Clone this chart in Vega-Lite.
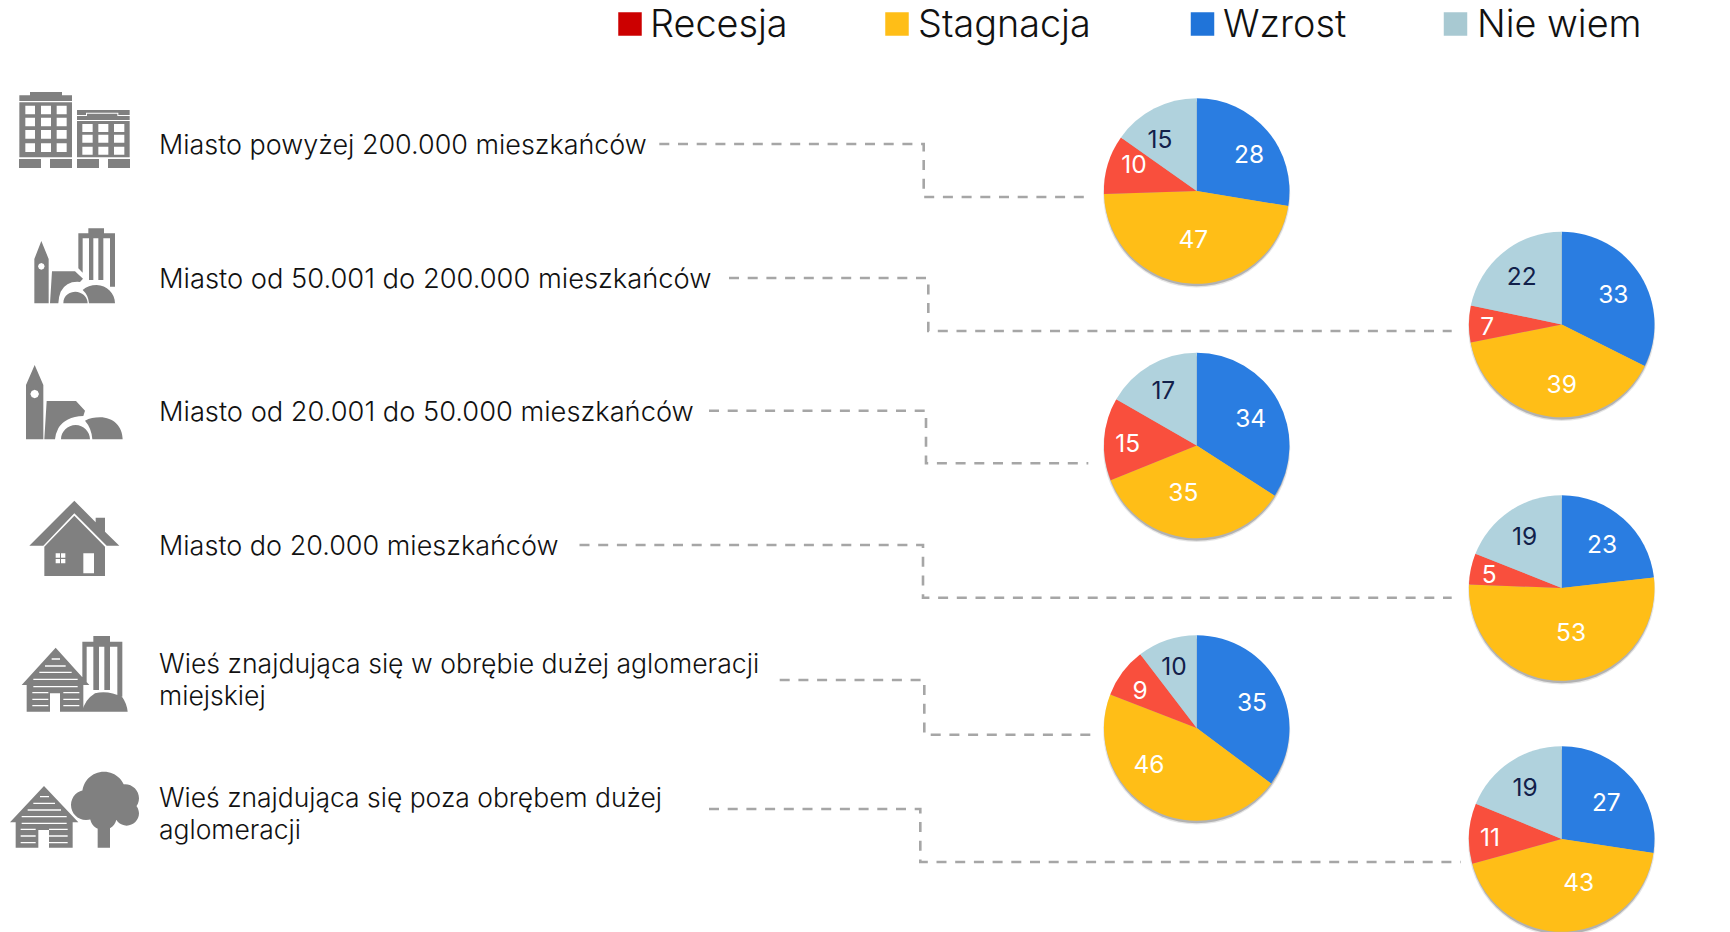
{
"$schema":"https://vega.github.io/schema/vega-lite/v6.json",
"width":1730,"height":932,"padding":0,"autosize":{"type":"none"},"background":"#ffffff",
"config":{"view":{"stroke":null},"axis":{"disable":true}},
"datasets":{
"wiersze":[
{"wiersz":1,"nazwa":"Miasto powyżej 200.000 mieszkańców","ikona":"bloki"},
{"wiersz":2,"nazwa":"Miasto od 50.001 do 200.000 mieszkańców","ikona":"duze"},
{"wiersz":3,"nazwa":"Miasto od 20.001 do 50.000 mieszkańców","ikona":"srednie"},
{"wiersz":4,"nazwa":"Miasto do 20.000 mieszkańców","ikona":"dom"},
{"wiersz":5,"nazwa":["Wieś znajdująca się w obrębie dużej aglomeracji","miejskiej"],"ikona":"wies_miasto"},
{"wiersz":6,"nazwa":["Wieś znajdująca się poza obrębem dużej","aglomeracji"],"ikona":"wies_drzewo"}
],
"legenda":[
{"k":1,"kategoria":"Recesja"},{"k":2,"kategoria":"Stagnacja"},{"k":3,"kategoria":"Wzrost"},{"k":4,"kategoria":"Nie wiem"}
],
"udzialy":[
{"nr":0,"wiersz":1,"kategoria":"Wzrost","kolejnosc":0,"wartosc":28,"udzial":27.6},{"nr":1,"wiersz":1,"kategoria":"Stagnacja","kolejnosc":1,"wartosc":47,"udzial":46.9},{"nr":2,"wiersz":1,"kategoria":"Recesja","kolejnosc":2,"wartosc":10,"udzial":10.3},{"nr":3,"wiersz":1,"kategoria":"Nie wiem","kolejnosc":3,"wartosc":15,"udzial":15.2},
{"nr":4,"wiersz":2,"kategoria":"Wzrost","kolejnosc":0,"wartosc":33,"udzial":32.4},{"nr":5,"wiersz":2,"kategoria":"Stagnacja","kolejnosc":1,"wartosc":39,"udzial":39.5},{"nr":6,"wiersz":2,"kategoria":"Recesja","kolejnosc":2,"wartosc":7,"udzial":6.4},{"nr":7,"wiersz":2,"kategoria":"Nie wiem","kolejnosc":3,"wartosc":22,"udzial":21.7},
{"nr":8,"wiersz":3,"kategoria":"Wzrost","kolejnosc":0,"wartosc":34,"udzial":34.1},{"nr":9,"wiersz":3,"kategoria":"Stagnacja","kolejnosc":1,"wartosc":35,"udzial":34.8},{"nr":10,"wiersz":3,"kategoria":"Recesja","kolejnosc":2,"wartosc":15,"udzial":14.4},{"nr":11,"wiersz":3,"kategoria":"Nie wiem","kolejnosc":3,"wartosc":17,"udzial":16.7},
{"nr":12,"wiersz":4,"kategoria":"Wzrost","kolejnosc":0,"wartosc":23,"udzial":23.2},{"nr":13,"wiersz":4,"kategoria":"Stagnacja","kolejnosc":1,"wartosc":53,"udzial":52.4},{"nr":14,"wiersz":4,"kategoria":"Recesja","kolejnosc":2,"wartosc":5,"udzial":5.4},{"nr":15,"wiersz":4,"kategoria":"Nie wiem","kolejnosc":3,"wartosc":19,"udzial":19},
{"nr":16,"wiersz":5,"kategoria":"Wzrost","kolejnosc":0,"wartosc":35,"udzial":35.2},{"nr":17,"wiersz":5,"kategoria":"Stagnacja","kolejnosc":1,"wartosc":46,"udzial":45.7},{"nr":18,"wiersz":5,"kategoria":"Recesja","kolejnosc":2,"wartosc":9,"udzial":8.7},{"nr":19,"wiersz":5,"kategoria":"Nie wiem","kolejnosc":3,"wartosc":10,"udzial":10.4},
{"nr":20,"wiersz":6,"kategoria":"Wzrost","kolejnosc":0,"wartosc":27,"udzial":27.4},{"nr":21,"wiersz":6,"kategoria":"Stagnacja","kolejnosc":1,"wartosc":43,"udzial":43.3},{"nr":22,"wiersz":6,"kategoria":"Recesja","kolejnosc":2,"wartosc":11,"udzial":10.5},{"nr":23,"wiersz":6,"kategoria":"Nie wiem","kolejnosc":3,"wartosc":19,"udzial":18.8}
]
},
"layer":[
{"data":{"name":"udzialy"},
 "mark":{"type":"line","stroke":"#a6a6a6","strokeWidth":2.6,"strokeDash":[10,8.7],"interpolate":"linear"},
 "encoding":{
 "x":{"field":"nr","type":"quantitative","axis":null,"scale":{"zero":false,"nice":false,"domain":[0,1,2,3,4,5,6,7,8,9,10,11,12,13,14,15,16,17,18,19,20,21,22,23],"range":[659.3,923.7,923.7,1084,729,928.3,928.3,1451.7,709,926,926,1088.3,579.5,923,923,1451.7,779.7,924.3,924.3,1091,709,920.3,920.3,1460.7]}},
 "y":{"field":"nr","type":"quantitative","axis":null,"scale":{"zero":false,"nice":false,"domain":[0,1,2,3,4,5,6,7,8,9,10,11,12,13,14,15,16,17,18,19,20,21,22,23],"range":[144,144,197,197,278,278,331,331,410.7,410.7,463.3,463.3,545,545,597.8,597.8,680,680,734.7,734.7,809,809,862,862]}},
 "detail":{"field":"wiersz"},
 "order":{"field":"nr"}
 }},
{"data":{"name":"wiersze"},
 "mark":{"type":"arc","radius":93.5,"theta":0,"theta2":6.2832,"color":"#000000","opacity":0.1},
 "encoding":{
 "x":{"field":"wiersz","type":"quantitative","axis":null,"scale":{"zero":false,"nice":false,"domain":[1,2,3,4,5,6],"range":[1196.7,1561.7,1196.7,1561.7,1196.7,1561.7]}},
 "y":{"field":"wiersz","type":"quantitative","axis":null,"scale":{"zero":false,"nice":false,"domain":[1,2,3,4,5,6],"range":[194,327.5,448.5,591,731,842]}}
 }},
{"data":{"name":"wiersze"},
 "mark":{"type":"arc","radius":92.3,"theta":0,"theta2":6.2832,"color":"#000000","opacity":0.22},
 "encoding":{
 "x":{"field":"wiersz","type":"quantitative","axis":null,"scale":{"zero":false,"nice":false,"domain":[1,2,3,4,5,6],"range":[1196.7,1561.7,1196.7,1561.7,1196.7,1561.7]}},
 "y":{"field":"wiersz","type":"quantitative","axis":null,"scale":{"zero":false,"nice":false,"domain":[1,2,3,4,5,6],"range":[194,327.5,448.5,591,731,842]}}
 }},
{"data":{"name":"udzialy"},
 "transform":[{"stack":"udzial","groupby":["wiersz"],"sort":[{"field":"kolejnosc","order":"ascending"}],"offset":"normalize","as":["od","do"]}],
 "mark":{"type":"arc","radius":92.8,"stroke":null},
 "encoding":{
 "x":{"field":"wiersz","type":"quantitative","axis":null,"scale":{"zero":false,"nice":false,"domain":[1,2,3,4,5,6],"range":[1196.7,1561.7,1196.7,1561.7,1196.7,1561.7]}},
 "y":{"field":"wiersz","type":"quantitative","axis":null,"scale":{"zero":false,"nice":false,"domain":[1,2,3,4,5,6],"range":[191,324.5,445.5,588,728,839]}},
 "theta":{"field":"od","type":"quantitative","stack":null,"scale":{"domain":[0,1],"range":[0,6.283185]}},
 "theta2":{"field":"do"},
 "color":{"field":"kategoria","type":"nominal","legend":null,"scale":{"domain":["Wzrost","Stagnacja","Recesja","Nie wiem"],"range":["#2a7de1","#ffbe17","#f94f3d","#b0d2dd"]}}
 }},
{"data":{"name":"udzialy"},
 "mark":{"type":"text","font":"Inter","fontSize":24.5,"align":"center","baseline":"middle","dy":1.5},
 "encoding":{
 "x":{"field":"nr","type":"quantitative","axis":null,"scale":{"zero":false,"nice":false,"domain":[0,1,2,3,4,5,6,7,8,9,10,11,12,13,14,15,16,17,18,19,20,21,22,23],"range":[1249,1193.3,1134,1160,1613.3,1561.7,1487.3,1521.7,1250.7,1183.3,1127.7,1163.3,1602,1571,1489.3,1524.7,1252,1149,1140,1174,1606.3,1578.7,1490,1525]}},
 "y":{"field":"nr","type":"quantitative","axis":null,"scale":{"zero":false,"nice":false,"domain":[0,1,2,3,4,5,6,7,8,9,10,11,12,13,14,15,16,17,18,19,20,21,22,23],"range":[154,239.3,164,139.3,294,384,326,276.7,418,492.3,443,390,544,632.3,574.3,536,702.5,764.3,690,666,802,882,837.3,787.5]}},
 "text":{"field":"wartosc","type":"quantitative"},
 "color":{"field":"kategoria","type":"nominal","legend":null,"scale":{"domain":["Wzrost","Stagnacja","Recesja","Nie wiem"],"range":["#ffffff","#ffffff","#ffffff","#12204a"]}}
 }},
{"data":{"name":"wiersze"},
 "mark":{"type":"text","font":"Inter","fontWeight":350,"align":"left","baseline":"alphabetic","lineHeight":32,"color":"#111111"},
 "encoding":{
 "x":{"field":"wiersz","type":"quantitative","axis":null,"scale":{"zero":false,"nice":false,"domain":[1,6],"range":[159,159]}},
 "y":{"field":"wiersz","type":"quantitative","axis":null,"scale":{"zero":false,"nice":false,"domain":[1,2,3,4,5,6],"range":[154,288,421,555,673,807]}},
 "size":{"field":"wiersz","type":"quantitative","legend":null,"scale":{"zero":false,"nice":false,"domain":[1,2,3,4,5,6],"range":[26.95,27.3,27.26,27,26.6,26.46]}},
 "text":{"field":"nazwa"}
 }},
{"data":{"name":"wiersze"},
 "mark":{"type":"point","filled":true,"color":"#808080","opacity":1,"strokeWidth":0,"size":0.44444},
 "encoding":{
 "x":{"field":"wiersz","type":"quantitative","axis":null,"scale":{"zero":false,"nice":false,"domain":[1,6],"range":[75,75]}},
 "y":{"field":"wiersz","type":"quantitative","axis":null,"scale":{"zero":false,"nice":false,"domain":[1,2,3,4,5,6],"range":[130,266.67,403.33,538.33,673.33,810]}},
 "shape":{"field":"ikona","type":"nominal","legend":null,"scale":{"domain":["bloki","duze","srednie","dom","wies_miasto","wies_drzewo"],"range":[
"M-135 -114H-39V-104H-9V-87H-167V-104H-135ZM-167 -83H-9V82H-167ZM-149 -73V-47H-120V-73ZM-102 -73V-47H-72V-73ZM-55 -73V-47H-25V-73ZM-149 -37V-11H-120V-37ZM-102 -37V-11H-72V-37ZM-55 -37V-11H-25V-37ZM-149 0V26H-120V0ZM-102 0V26H-72V0ZM-55 0V26H-25V0ZM-149 40V66H-120V40ZM-102 40V66H-72V40ZM-55 40V66H-25V40ZM-168 87H-102V114H-168ZM-75 87H-9V114H-75ZM6 -60H164V-45H130V-52H33V-45H6ZM36 -49H127V-42H36ZM6 -42H164V-30H6ZM6 -27H164V82H6ZM22 -18V6H53V-18ZM70 -18V6H100V-18ZM117 -18V6H148V-18ZM22 14V38H53V14ZM70 14V38H100V14ZM117 14V38H148V14ZM22 50V74H53V50ZM70 50V74H100V50ZM117 50V74H148V50ZM6 87H72V114H6ZM99 87H165V114H99Z",
"M-101 -77L-79 -23V110H-122V-23ZM-111 -1L-108 6L-101 9L-94 6L-91 -1L-94 -8L-101 -11L-108 -8ZM-69 14L0 14L24 36L15 46Q-25 42 -43 75Q-49 90 -50 110L-75 110ZM-35 110C-35 85 -15 75 1 75C20 75 38 90 38 110ZM42 110Q40 85 23 70Q40 55 65 55C95 55 120 80 120 110ZM40 -115H87V-100H120V-85H10V-100H40ZM10 -85H23V18L10 5ZM42 -85H55V40H42ZM70 -85H85V40H70ZM105 -85H120V60H105Z",
"M-121 -115L-95 -55V108H-147V-55ZM-134 -28L-130 -19L-121 -15L-112 -19L-108 -28L-112 -37L-121 -41L-130 -37ZM-85 -7L3 -7L30 22L25 38Q-30 40 -50 75Q-58 90 -60 108L-92 108ZM-42 108C-42 85 -22 65 2 65C25 65 45 85 45 108ZM52 108Q50 75 30 52Q50 42 75 42C115 42 143 70 143 108Z",
"M-2 -113L62 -48V-62H90V-20L133 22H95L-2 -75L-95 22H-137ZM-2 -68L90 25V113H-92V25ZM25 45V105H57V45ZM-58 45V58H-45V45ZM-42 45V58H-29V45ZM-58 62V75H-45V62ZM-42 62V75H-29V62Z",
"M-58 -77L43 35H25V115H-45V60H-75V115H-145V35H-160ZM-70 -45V-41H-45V-45ZM-90 -24V-20H-28V-24ZM-107 -5V-1H-10V-5ZM-125 16V20H8V16ZM-125 38V42H8V38ZM-128 56V60H-80V56ZM-35 56V60H13V56ZM-128 76V80H-80V76ZM-35 76V80H13V76ZM-128 95V99H-80V95ZM-35 95V99H13V95ZM55 -112H105V-95H142V-80H22V-95H55ZM22 -80H35V30H22ZM55 -80H72V50H55ZM88 -80H105V50H88ZM127 -80H142V70H127ZM22 115Q28 80 60 60Q100 50 142 72Q155 90 158 115Z",
"M-93 -72L10 37H-7V113H-78V60H-110V113H-178V37H-195ZM-105 -42V-38H-78V-42ZM-125 -22V-18H-60V-22ZM-142 -2V2H-42V-2ZM-160 18V22H-25V18ZM-160 38V42H-25V38ZM-163 56V60H-118V56ZM-78 56V60H-22V56ZM-163 76V80H-118V76ZM-78 76V80H-22V76ZM-163 96V100H-118V96ZM-78 96V100H-22V96ZM22 -50C22 -86 51 -115 87 -115C123 -115 152 -86 152 -50C152 -14 123 15 87 15C51 15 22 -14 22 -50ZM-12 -15C-12 -40 8 -60 33 -60C58 -60 78 -40 78 -15C78 10 58 30 33 30C8 30 -12 10 -12 -15ZM108 -35C108 -58 127 -77 150 -77C173 -77 192 -58 192 -35C192 -12 173 7 150 7C127 7 108 -12 108 -35ZM118 10C118 -10 135 -27 155 -27C175 -27 192 -10 192 10C192 30 175 47 155 47C135 47 118 30 118 10ZM45 20C45 -2 63 -20 85 -20C107 -20 125 -2 125 20C125 42 107 60 85 60C63 60 45 42 45 20ZM68 20H105V113H68Z"
]}}
 }},
{"data":{"name":"legenda"},
 "mark":{"type":"point","shape":"square","filled":true,"opacity":1,"strokeWidth":0,"size":552},
 "encoding":{
 "x":{"field":"k","type":"quantitative","axis":null,"scale":{"zero":false,"nice":false,"domain":[1,2,3,4],"range":[630,897,1202.5,1455.5]}},
 "y":{"field":"k","type":"quantitative","axis":null,"scale":{"zero":false,"nice":false,"domain":[1,4],"range":[24,24]}},
 "color":{"field":"kategoria","type":"nominal","legend":null,"scale":{"domain":["Recesja","Stagnacja","Wzrost","Nie wiem"],"range":["#cc0000","#ffbe17","#2074d9","#a8c9d2"]}}
 }},
{"data":{"name":"legenda"},
 "mark":{"type":"text","font":"Inter","fontSize":37.8,"fontWeight":350,"align":"left","baseline":"alphabetic","color":"#111111"},
 "encoding":{
 "x":{"field":"k","type":"quantitative","axis":null,"scale":{"zero":false,"nice":false,"domain":[1,2,3,4],"range":[650,918,1223,1477]}},
 "y":{"field":"k","type":"quantitative","axis":null,"scale":{"zero":false,"nice":false,"domain":[1,4],"range":[37,37]}},
 "text":{"field":"kategoria"}
 }}
],
"resolve":{"scale":{"x":"independent","y":"independent","color":"independent","theta":"independent","shape":"independent","size":"independent"}}
}
